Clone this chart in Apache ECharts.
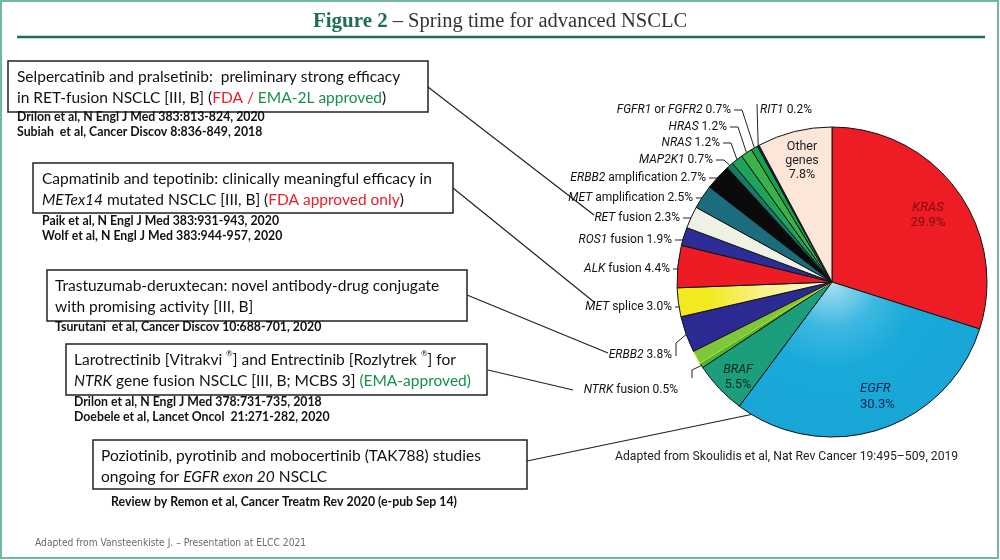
<!DOCTYPE html>
<html><head><meta charset="utf-8">
<script src="https://cdn.jsdelivr.net/npm/echarts@6/dist/echarts.min.js"></script>
<style>html,body{margin:0;padding:0;background:#fff}#c{width:1000px;height:560px}</style>
</head><body><div id="c"></div>
<script>
// ---- data ----
const genes = ['KRAS','EGFR','BRAF','NTRK fusion','unlabelled','ERBB2','MET splice','ALK fusion','ROS1 fusion','RET fusion','MET amplification','ERBB2 amplification','MAP2K1','NRAS','HRAS','FGFR1 or FGFR2','RIT1','Other genes'];
const shares = [29.9,30.3,5.5,0.5,1.4,3.8,3.0,4.4,1.9,2.3,2.5,2.7,0.7,1.2,1.2,0.7,0.2,7.8];
const sliceColors = ['#ee1c25','#1aaad9','#1c9e7c','#3dbb3a','#7cc83a','#2b2a93','#f2ea1e','#ed1c24','#2d2d98','#eef1e4','#1b6c7c','#0a0a0a','#177a66','#1fa35a','#38b24a','#17a14a','#1a2060','#fbe6d8'];
const labelTemplates = ['{ki|KRAS}\n{kn|V}','{ei|EGFR}\n{en|V}','{bi|BRAF}\n{bn|V}','{i|NTRK} fusion V','','{i|ERBB2} V','{i|MET} splice V','{i|ALK} fusion V','{i|ROS1} fusion V','{i|RET} fusion V','{i|MET} amplification V','{i|ERBB2} amplification V','{i|MAP2K1} V','{i|NRAS} V','{i|HRAS} V','{i|FGFR1} or {i|FGFR2} V','{i|RIT1} V','{o|Other}\n{o|genes}\n{o|V}'];
const innerLabels = ['KRAS','EGFR','BRAF','Other genes'];

const boxTexts = [
 'Selpercatinib and pralsetinib:  preliminary strong efficacy\nin RET-fusion NSCLC [III, B] ({r|FDA /} {g|EMA-2L approved})',
 'Capmatinib and tepotinib: clinically meaningful efficacy in\n{it|METex14} mutated NSCLC [III, B] ({r|FDA approved only})',
 'Trastuzumab-deruxtecan: novel antibody-drug conjugate\nwith promising activity [III, B]',
 'Larotrectinib [Vitrakvi {sup|®}] and Entrectinib [Rozlytrek {sup|®}] for\n{it|NTRK} gene fusion NSCLC [III, B; MCBS 3] {g|(EMA-approved)}',
 'Poziotinib, pyrotinib and mobocertinib (TAK788) studies\nongoing for {it|EGFR exon 20} NSCLC'
];
const boxRefs = [
 'Drilon et al, N Engl J Med 383:813-824, 2020\nSubiah  et al, Cancer Discov 8:836-849, 2018',
 'Paik et al, N Engl J Med 383:931-943, 2020\nWolf et al, N Engl J Med 383:944-957, 2020',
 'Tsurutani  et al, Cancer Discov 10:688-701, 2020',
 'Drilon et al, N Engl J Med 378:731-735, 2018\nDoebele et al, Lancet Oncol  21:271-282, 2020',
 'Review by Remon et al, Cancer Treatm Rev 2020 (e-pub Sep 14)'
];
const titleMain = 'Figure 2';
const titleRest = '– Spring time for advanced NSCLC';
const sourceNote = 'Adapted from Skoulidis et al, Nat Rev Cancer 19:495–509, 2019';
const footerNote = 'Adapted from Vansteenkiste J. – Presentation at ELCC 2021';

// ---- layout (positions only) ----
const labelPos = {
 'KRAS':[928,215,'center'], 'EGFR':[860,397,'left'], 'BRAF':[738,377,'center'], 'Other genes':[802,161,'center'],
 'FGFR1 or FGFR2':[731,110,'right'], 'RIT1':[760,110,'left'], 'HRAS':[727,127,'right'], 'NRAS':[720,143,'right'],
 'MAP2K1':[713,160,'right'], 'ERBB2 amplification':[706,178,'right'], 'MET amplification':[693,198,'right'],
 'RET fusion':[680,218,'right'], 'ROS1 fusion':[672,240,'right'], 'ALK fusion':[670,269,'right'],
 'MET splice':[672,307,'right'], 'ERBB2':[672,355,'right'], 'NTRK fusion':[678,390,'right']
};
const boxRects = [[8,61,420,51],[33,163,420,50],[47,270,420,51],[66,344,421,51],[93,440,434,49]];
const boxTextPos = [[17,66],[42,168],[55,275],[74,349],[101,445]];
const refPos = [[17,110,'left'],[42,214,'left'],[55,320,'left'],[74,395,'left'],[284,495,'center']];
const connectors = [[[428,87],[594,215]],[[453,188],[594,302]],[[467,295],[608,353]],[[488,370],[573,390]],[[527,461],[850,394]]];

const chart = echarts.init(document.getElementById('c'));

const gradients = {
  'EGFR': new echarts.graphic.RadialGradient(832,282,155,[{offset:0,color:'#a8e0f2'},{offset:0.3,color:'#3cb8e0'},{offset:0.55,color:'#1aaad9'},{offset:1,color:'#17a6d6'}],true),
  'MET splice': new echarts.graphic.RadialGradient(832,282,155,[{offset:0,color:'#fffbd8'},{offset:0.5,color:'#f7f080'},{offset:0.8,color:'#f2ea1e'},{offset:1,color:'#f2ea1e'}],true)
};

const pieData = genes.map((g,i)=>{
  const inner = innerLabels.includes(g);
  const item = {name:g, value:shares[i], itemStyle:{color:gradients[g] || sliceColors[i]}};
  if (g==='unlabelled') { item.label={show:false}; item.labelLine={show:false}; item.itemStyle.borderColor='#d8e020'; }
  else if (inner) { item.label={position:'inside'}; item.labelLine={show:false}; }
  return item;
});

const lbl = 'Roboto';
const bf = 15.5;
const graphics = [];
graphics.push({type:'rect', shape:{x:1,y:1,width:997,height:557}, style:{fill:'none', stroke:'#6db9a2', lineWidth:2}, silent:true});
graphics.push({type:'line', shape:{x1:17,y1:37,x2:985,y2:37}, style:{stroke:'#1f6e4c', lineWidth:2.5}});
boxRects.forEach((r,i)=>{
  graphics.push({type:'rect', shape:{x:r[0],y:r[1],width:r[2],height:r[3]}, style:{fill:'#fff', stroke:'#222', lineWidth:1.5}});
  graphics.push({type:'text', x:boxTextPos[i][0], y:boxTextPos[i][1], style:{
    text:boxTexts[i], fontFamily:'Lato', fontSize:bf, fill:'#111', lineHeight:21, verticalAlign:'top',
    rich:{
      r:{fill:'#e8202a', fontFamily:'Lato', fontSize:bf, lineHeight:21},
      g:{fill:'#17904c', fontFamily:'Lato', fontSize:bf, lineHeight:21},
      it:{fontStyle:'italic', fontFamily:'Lato', fontSize:bf, fill:'#111', lineHeight:21},
      sup:{fontSize:8, fontFamily:'Lato', fill:'#111', verticalAlign:'top', lineHeight:21}
    }}});
  graphics.push({type:'text', x:refPos[i][0], y:refPos[i][1], style:{
    text:boxRefs[i], fontFamily:'Lato', fontWeight:'bold', fontSize:12.3, fill:'#111', lineHeight:14.8, verticalAlign:'top', align:refPos[i][2]}});
});
connectors.forEach(c=>{
  graphics.push({type:'line', shape:{x1:c[0][0],y1:c[0][1],x2:c[1][0],y2:c[1][1]}, style:{stroke:'#222', lineWidth:1.2}});
});
graphics.push({type:'text', x:615, y:457, style:{text:sourceNote, fontFamily:lbl, fontSize:12.2, fill:'#222', verticalAlign:'middle'}});
graphics.push({type:'text', x:35, y:543, style:{text:footerNote, fontFamily:'"DejaVu Sans Condensed", Roboto', fontSize:10.2, fill:'#6a6a6a', verticalAlign:'middle'}});

chart.setOption({
  animation:false,
  title:{
    text:'{a|'+titleMain+'} {b|'+titleRest+'}', left:'center', top:6,
    textStyle:{fontWeight:'normal', rich:{
      a:{fontFamily:'Liberation Serif', fontWeight:'bold', fontSize:21, color:'#1b7050'},
      b:{fontFamily:'Liberation Serif', fontWeight:'normal', fontSize:20.5, color:'#333'}
    }}
  },
  graphic:graphics,
  series:[{
    type:'pie', center:[832,282], radius:155, startAngle:90, clockwise:true,
    avoidLabelOverlap:false, minAngle:0,
    itemStyle:{borderColor:'#111', borderWidth:1},
    emphasis:{disabled:true},
    label:{
      show:true, position:'outside', fontFamily:lbl, fontSize:12, color:'#111',
      formatter:p=>labelTemplates[p.dataIndex].replace('V', shares[p.dataIndex].toFixed(1)+'%'),
      rich:{
        i:{fontStyle:'italic', fontFamily:lbl, fontSize:12, color:'#111'},
        ki:{fontStyle:'italic', fontFamily:lbl, fontSize:13, color:'#7d0c10', lineHeight:15},
        kn:{fontFamily:lbl, fontSize:13, color:'#7d0c10', lineHeight:15},
        ei:{fontStyle:'italic', fontFamily:lbl, fontSize:13, color:'#0c2448', lineHeight:16},
        en:{fontFamily:lbl, fontSize:13, color:'#0c2448', lineHeight:16},
        bi:{fontStyle:'italic', fontFamily:lbl, fontSize:12.5, color:'#082a24', lineHeight:15},
        bn:{fontFamily:lbl, fontSize:12.5, color:'#082a24', lineHeight:15},
        o:{fontFamily:lbl, fontSize:12.5, color:'#222', lineHeight:14, align:'center'}
      }
    },
    labelLine:{show:true, length:6, length2:6, lineStyle:{color:'#222', width:1}},
    labelLayout:function(params){
      const g = genes[params.dataIndex];
      const pos = labelPos[g];
      if (!pos) return {};
      const out = {x:pos[0], y:pos[1], align:pos[2], verticalAlign:'middle'};
      const pts = params.labelLinePoints;
      if (pts && pts.length && !innerLabels.includes(g)) {
        const rim = pts[0];
        if (g==='RIT1') out.labelLinePoints=[rim,[757,104],[757,104]];
        else if (g==='ERBB2') out.labelLinePoints=[rim,[676,343],[676,356]];
        else if (g==='NTRK fusion') out.labelLinePoints=[rim,[692,370],[692,378]];
        else out.labelLinePoints=[rim,[pos[0]+11,pos[1]],[pos[0]+3,pos[1]]];
      }
      return out;
    },
    data:pieData
  }]
});
</script></body></html>
